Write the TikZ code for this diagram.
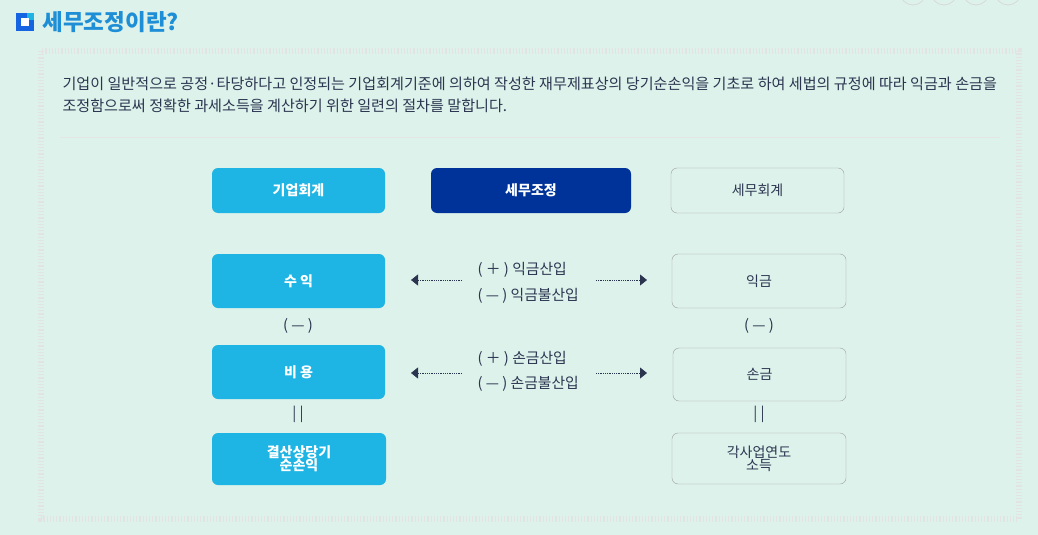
\documentclass[tikz,border=0pt]{standalone}
\usepackage{fontspec}
\setmainfont{Noto Sans CJK KR}
\usetikzlibrary{arrows.meta}
\definecolor{bg}{HTML}{DDF2EA}
\definecolor{sky}{HTML}{1EB4E3}
\definecolor{navy}{HTML}{003399}
\definecolor{txt}{HTML}{2B3550}
\definecolor{ttl}{HTML}{1E8FD6}
\tikzset{x=1pt,y=-1pt,
 box/.style={rounded corners=6pt,font=\fontsize{14}{15}\selectfont\bfseries,text=white,align=center},
 skybox/.style={box,fill=sky},
 wbox/.style={rounded corners=6pt,draw=gray!75,fill=bg,font=\fontsize{14}{15}\selectfont,text=txt,align=center},
 lab/.style={font=\fontsize{14.8}{15}\selectfont,text=txt,anchor=west},
 conn/.style={densely dotted,line width=0.8pt,draw=txt,-{Triangle[length=7pt,width=11pt]}}}
\begin{document}
\begin{tikzpicture}
\useasboundingbox (0,0) rectangle (1038,535);
\fill[bg] (0,0) rectangle (1038,535);
\foreach \cx in {913,944,976,1008} \draw[gray!30,line width=0.8pt] (\cx,-8) circle (13);
% icon
\fill[ttl!70!blue] (16,13) rectangle (34,31);
\fill[sky] (27,13) rectangle (34,20);
\fill[white] (21,18) rectangle (29,26);
\node[anchor=west,text=ttl,font=\fontsize{22.5}{26}\selectfont\bfseries] (title) at (39,22) {세무조정이란?};
% panel
\draw[gray!22,line width=6pt,dash pattern=on 1.2pt off 2pt] (41,51) rectangle (1019,519);
\node[anchor=west,text=txt,font=\fontsize{15.1}{22}\selectfont,align=left] (para) at (59,95) {기업이 일반적으로 공정·타당하다고 인정되는 기업회계기준에 의하여 작성한 재무제표상의 당기순손익을 기초로 하여 세법의 규정에 따라 익금과 손금을\\조정함으로써 정확한 과세소득을 계산하기 위한 일련의 절차를 말합니다.};
\draw[gray!20] (60,137) -- (1000,137);
% headers
\node[skybox,minimum width=173pt,minimum height=45pt] (h1) at (298.5,190.5) {기업회계};
\node[box,fill=navy,minimum width=200pt,minimum height=45pt] (h2) at (531,190.5) {세무조정};
\node[wbox,minimum width=173pt,minimum height=45pt] (h3) at (757.5,190.5) {세무회계};
% rows
\node[skybox,minimum width=173pt,minimum height=54pt] (a1) at (298.5,281) {수 익};
\node[wbox,minimum width=174pt,minimum height=54pt] (b1) at (759,281) {익금};
\node[skybox,minimum width=173pt,minimum height=54pt] (a2) at (298.5,372) {비 용};
\node[wbox,minimum width=173pt,minimum height=53pt] (b2) at (759.5,374.5) {손금};
\node[skybox,minimum width=174pt,minimum height=52pt] (a3) at (299,459) {결산상당기\\[-2pt]순손익};
\node[wbox,minimum width=174pt,minimum height=51pt] (b3) at (759,458.5) {각사업연도\\[-2pt]소득};
\node[text=txt,font=\fontsize{14.8}{15}\selectfont] (m1) at (298,326) {( — )};
\node[text=txt,font=\fontsize{14.8}{15}\selectfont] (m2) at (759,326) {( — )};
\node[text=txt,font=\fontsize{14.8}{15}\selectfont] (e1) at (298,414) {| |};
\node[text=txt,font=\fontsize{14.8}{15}\selectfont] (e2) at (759,414) {| |};
% middle
\node[lab] (t1) at (474,270) {( ＋ ) 익금산입};
\node[lab] (t2) at (474,296) {( — ) 익금불산입};
\node[lab] (t3) at (474,359) {( ＋ ) 손금산입};
\node[lab] (t4) at (474,384) {( — ) 손금불산입};
\coordinate (l1s) at (462,280); \coordinate (l1e) at (411,280);
\coordinate (r1s) at (596,280); \coordinate (r1e) at (647,280);
\coordinate (l2s) at (462,373); \coordinate (l2e) at (411,373);
\coordinate (r2s) at (596,373); \coordinate (r2e) at (647,373);
\draw[conn] (l1s) -- (l1e);
\draw[conn] (r1s) -- (r1e);
\draw[conn] (l2s) -- (l2e);
\draw[conn] (r2s) -- (r2e);
\end{tikzpicture}
\end{document}
